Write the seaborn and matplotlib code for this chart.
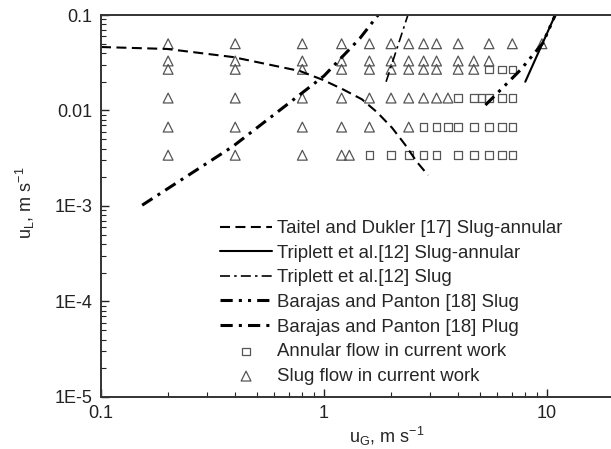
import numpy as np
import pandas as pd
import matplotlib
matplotlib.use("Agg")
import matplotlib.pyplot as plt
import seaborn as sns

# ---- flow-regime boundary lines (u_G [m/s], u_L [m/s]) ----
taitel_x = [0.1, 0.198, 0.39, 0.78, 0.99, 1.22, 1.48, 1.73, 2.02, 2.31, 2.61, 2.93]
taitel_y = [0.0462, 0.0441, 0.0363, 0.0259, 0.0209, 0.0166, 0.0131, 0.0096,
            0.0066, 0.0044, 0.0029, 0.0021]

triplett_sa_x = [8.0, 10.9]
triplett_sa_y = [0.020, 0.1]

triplett_slug_x = [1.90, 2.38]
triplett_slug_y = [0.020, 0.1]

barajas_slug_x = [5.3, 7.6, 9.6, 10.9]
barajas_slug_y = [0.0114, 0.0265, 0.051, 0.1]

barajas_plug_x = [0.153, 0.39, 0.73, 1.0, 1.45, 1.75]
barajas_plug_y = [0.00102, 0.0042, 0.013, 0.023, 0.057, 0.1]

# ---- experimental points ----
annular_x = [5.5, 6.3, 7.0,
             4.0, 4.7, 5.1, 5.5, 6.3, 7.0,
             2.8, 3.2, 3.6, 4.0, 4.7, 5.5, 6.3, 7.0,
             1.6, 2.0, 2.4, 2.8, 3.2, 4.0, 4.7, 5.5, 6.3, 7.0]
annular_y = [0.027] * 3 + [0.0135] * 6 + [0.0067] * 8 + [0.0034] * 10

slug_x = [0.2, 0.4, 0.8, 1.2, 1.6, 2.0, 2.4, 2.8, 3.2, 4.0, 5.5, 7.0, 9.5,
          0.2, 0.4, 0.8, 1.2, 1.6, 2.0, 2.4, 2.8, 3.2, 4.0, 4.7, 5.5,
          0.2, 0.4, 0.8, 1.2, 1.6, 2.0, 2.4, 2.8, 3.2, 4.0, 4.7,
          0.2, 0.4, 0.8, 1.2, 1.6, 2.0, 2.4, 2.8, 3.2, 3.6,
          0.2, 0.4, 0.8, 1.2, 1.6, 2.4,
          0.2, 0.4, 0.8, 1.2, 1.3]
slug_y = ([0.05] * 13 + [0.033] * 12 + [0.027] * 11 + [0.0135] * 10
          + [0.0067] * 6 + [0.0034] * 5)

y_ticks = [1e-5, 1e-4, 1e-3, 1e-2, 1e-1]
y_ticklabels = ["1E-5", "1E-4", "1E-3", "0.01", "0.1"]
x_ticks = [0.1, 1, 10]
x_ticklabels = ["0.1", "1", "10"]

sns.set_theme(style="white")
plt.rcParams["font.family"] = ["Liberation Sans", "DejaVu Sans"]
plt.rcParams["mathtext.fontset"] = "custom"
plt.rcParams["mathtext.rm"] = "Liberation Sans"
plt.rcParams["mathtext.it"] = "Liberation Sans:italic"

FS = 13
LEG_FS = 13.4
fig = plt.figure(figsize=(6.11, 4.49), dpi=100)
ax = fig.add_axes([101 / 611, 52 / 449, 513 / 611, 382 / 449])
ax.set_xscale("log")
ax.set_yscale("log")

line_kw = dict(color="black", estimator=None, sort=False, ax=ax)
sns.lineplot(x=taitel_x, y=taitel_y, lw=1.5, linestyle=(0, (4.8, 2.6)),
             label="Taitel and Dukler [17] Slug-annular", **line_kw)
sns.lineplot(x=triplett_sa_x, y=triplett_sa_y, lw=1.5, linestyle="-",
             label="Triplett et al.[12] Slug-annular", **line_kw)
sns.lineplot(x=triplett_slug_x, y=triplett_slug_y, lw=1.2,
             linestyle=(0, (6, 2.5, 1.5, 2.5)),
             label="Triplett et al.[12] Slug", **line_kw)
sns.lineplot(x=barajas_slug_x, y=barajas_slug_y, lw=2.2,
             linestyle=(0, (4, 2, 1, 2, 1, 2)),
             label="Barajas and Panton [18] Slug", **line_kw)
sns.lineplot(x=barajas_plug_x, y=barajas_plug_y, lw=2.2,
             linestyle=(0, (4, 2, 1, 2)),
             label="Barajas and Panton [18] Plug", **line_kw)

mk_col = "#555555"
sns.scatterplot(x=annular_x, y=annular_y, marker="s", s=30,
                facecolor="none", edgecolor=mk_col, linewidth=0.9,
                label="Annular flow in current work", ax=ax)
sns.scatterplot(x=slug_x, y=slug_y, marker="^", s=50,
                facecolor="none", edgecolor=mk_col, linewidth=0.9,
                label="Slug flow in current work", ax=ax)

ax.set_xlim(0.1, 20)
ax.set_ylim(1e-5, 0.1)
ax.set_xticks(x_ticks)
ax.set_xticklabels(x_ticklabels)
ax.set_yticks(y_ticks)
ax.set_yticklabels(y_ticklabels)
ax.xaxis.set_minor_locator(matplotlib.ticker.LogLocator(base=10, subs=np.arange(2, 10)))
ax.yaxis.set_minor_locator(matplotlib.ticker.LogLocator(base=10, subs=np.arange(2, 10)))
ax.xaxis.set_minor_formatter(matplotlib.ticker.NullFormatter())
ax.yaxis.set_minor_formatter(matplotlib.ticker.NullFormatter())
ax.tick_params(which="both", direction="in", colors="#222222", labelsize=FS,
               bottom=True, left=True, top=False, right=False)
ax.tick_params(which="major", length=6, width=1.0, pad=6)
ax.tick_params(which="minor", length=3.5, width=0.8)

for side in ["left", "bottom", "top"]:
    ax.spines[side].set_color("#333333")
    ax.spines[side].set_linewidth(1.4)
ax.spines["right"].set_visible(False)
ax.grid(False)

ax.set_xlabel(r"u$_\mathrm{G}$, m s$^\mathrm{-1}$", fontsize=FS)
ax.set_ylabel(r"u$_\mathrm{L}$, m s$^\mathrm{-1}$", fontsize=FS)
ax.xaxis.set_label_coords(0.557, -0.072)
ax.yaxis.set_label_coords(-0.125, 0.508)

leg = ax.legend(loc="upper left", bbox_to_anchor=(220 / 611, 1 - 220 / 449),
                bbox_transform=fig.transFigure, frameon=False, fontsize=LEG_FS,
                handlelength=2.8, handletextpad=0.28, labelspacing=0.41,
                borderpad=0, borderaxespad=0, markerscale=1.0)

fig.savefig("out.png", dpi=100)
